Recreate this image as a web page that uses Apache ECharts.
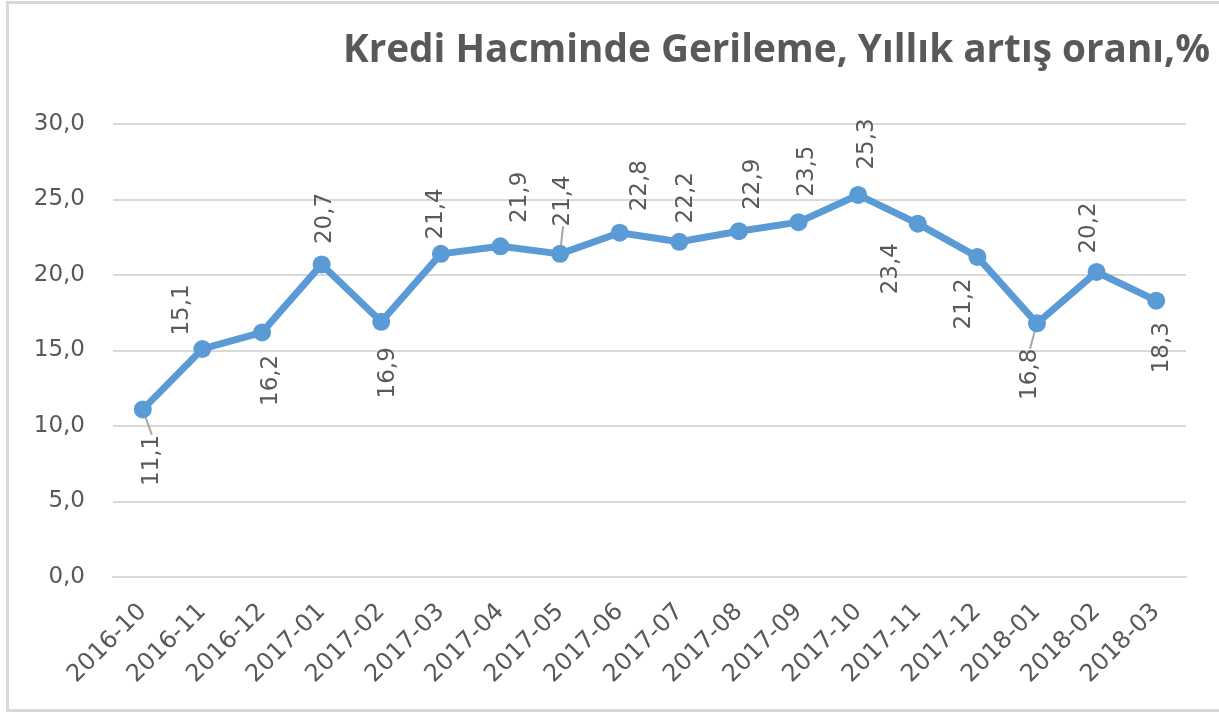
<!DOCTYPE html>
<html>
<head>
<meta charset="utf-8">
<script src="https://cdn.jsdelivr.net/npm/echarts@6/dist/echarts.min.js"></script>
<style>
  html, body { margin: 0; padding: 0; background: #fff; }
  #chart { width: 1219px; height: 713px; }
</style>
</head>
<body>
<div id="chart"></div>
<script>
// veriler
var categories = ['2016-10', '2016-11', '2016-12', '2017-01', '2017-02', '2017-03',
  '2017-04', '2017-05', '2017-06', '2017-07', '2017-08', '2017-09',
  '2017-10', '2017-11', '2017-12', '2018-01', '2018-02', '2018-03'];
var values = [11.1, 15.1, 16.2, 20.7, 16.9, 21.4, 21.9, 21.4, 22.8, 22.2, 22.9, 23.5,
  25.3, 23.4, 21.2, 16.8, 20.2, 18.3];
var yMin = 0, yMax = 30, yStep = 5;
var titleText = 'Kredi Hacminde Gerileme, Yıllık artış oranı,%';

// etiket merkezinin noktaya göre kayması, ekran koordinatında (stil, veri değil)
var labelShift = [[9, 51], [-20, -39], [9, 48], [3, -46], [7, 51], [-5, -40], [20, -49],
  [3, -53], [20, -47], [7, -44], [14, -47], [9, -51], [9, -51], [-27, 45], [-13, 47],
  [-7, 51], [-8, -44], [6, 47]];
var leaderIdx = [0, 7, 15];

var textGray = '#595959';
var lineBlue = '#5B9BD5';

function fmt(v) {
  return v.toFixed(1).replace('.', ',');
}

var seriesData = values.map(function (v, i) {
  var s = labelShift[i];
  var item = {
    value: v,
    label: {
      show: true,
      position: 'inside',
      rotate: 90,
      align: 'center',
      verticalAlign: 'middle',
      // offset etiketle birlikte döndüğü için ters çevir
      offset: [-s[1], s[0]]
    }
  };
  if (leaderIdx.indexOf(i) >= 0) {
    item.labelLine = { show: true, lineStyle: { color: '#a6a6a6', width: 2 } };
  }
  return item;
});

var chart = echarts.init(document.getElementById('chart'));
chart.setOption({
  animation: false,
  backgroundColor: '#fff',
  title: {
    text: titleText,
    right: 4,
    top: 26,
    textStyle: {
      color: textGray,
      fontFamily: '"Open Sans", sans-serif',
      fontWeight: 'bold',
      fontSize: 38.7
    }
  },
  graphic: [{
    type: 'rect',
    silent: true,
    shape: { x: 7.5, y: 2.5, width: 1240, height: 708 },
    style: { fill: 'none', stroke: '#d9d9d9', lineWidth: 3 }
  }],
  grid: { left: 113, right: 33, top: 124, bottom: 136 },
  xAxis: {
    type: 'category',
    data: categories,
    boundaryGap: true,
    axisLine: { show: true, lineStyle: { color: '#d9d9d9', width: 2 } },
    axisTick: { show: false },
    axisLabel: {
      rotate: 45,
      margin: 31,
      color: textGray,
      fontFamily: '"DejaVu Sans", sans-serif',
      fontSize: 24,
      interval: 0
    }
  },
  yAxis: {
    type: 'value',
    min: yMin,
    max: yMax,
    interval: yStep,
    axisLine: { show: false },
    axisTick: { show: false },
    splitLine: { lineStyle: { color: '#d9d9d9', width: 2 } },
    axisLabel: {
      margin: 28,
      color: textGray,
      fontFamily: '"DejaVu Sans", sans-serif',
      fontSize: 23,
      formatter: function (v) { return fmt(v); }
    }
  },
  series: [{
    type: 'line',
    data: seriesData,
    symbol: 'circle',
    symbolSize: 18,
    lineStyle: { color: lineBlue, width: 7 },
    itemStyle: { color: lineBlue },
    label: {
      color: textGray,
      fontFamily: '"DejaVu Sans", sans-serif',
      fontSize: 23,
      formatter: function (p) { return fmt(p.value); }
    },
    labelLine: { show: false }
  }]
});
</script>
</body>
</html>
